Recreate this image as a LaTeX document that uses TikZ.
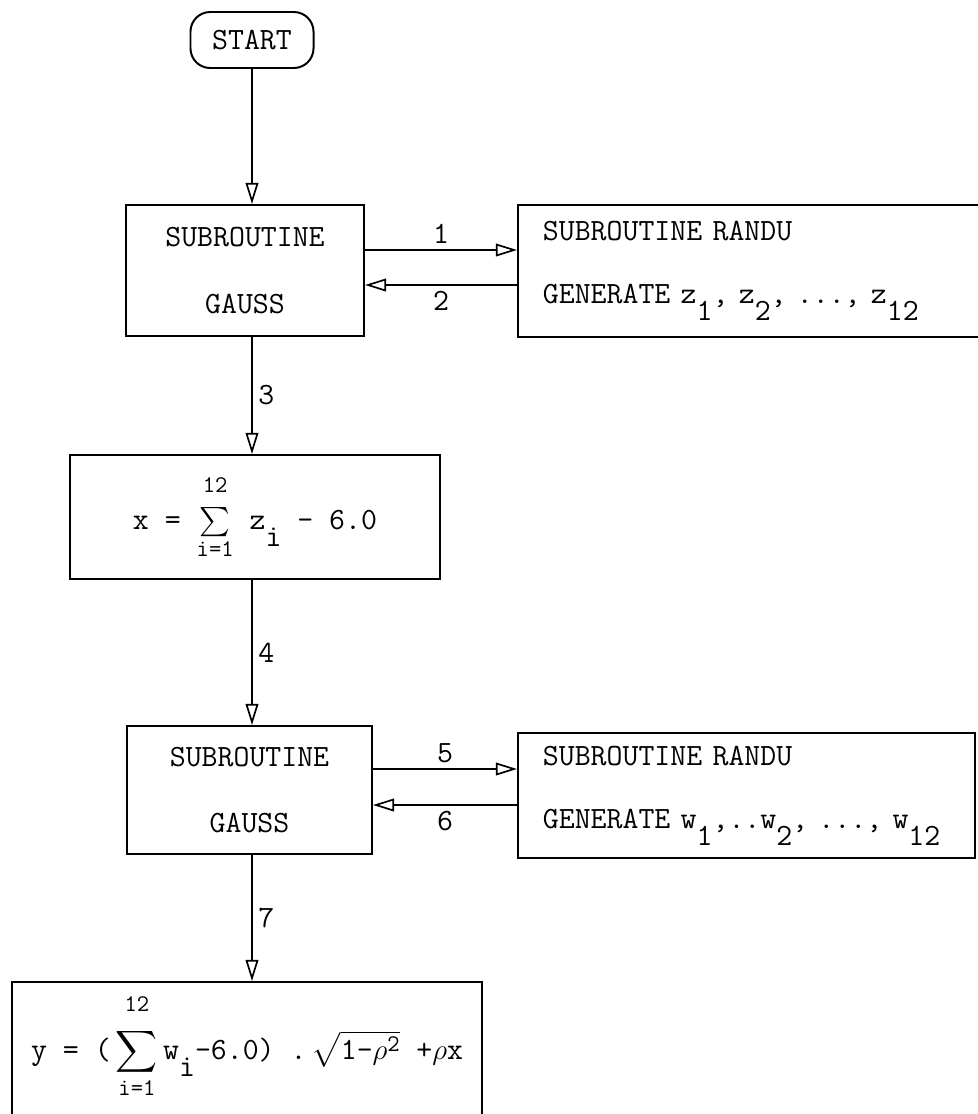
\documentclass[tikz,border=0pt]{standalone}
\usepackage{fontspec}
\usepackage{amsmath}
\usetikzlibrary{arrows.meta}

\newcommand\lo[1]{\raisebox{-0.55em}{#1}}
\newcommand\limtxt[1]{\mbox{\ttfamily\fontsize{17}{17}\selectfont #1}}

\begin{document}
\begin{tikzpicture}[x=0.025cm, y=-0.025cm,
  every node/.style={font=\ttfamily\fontsize{22}{26}\selectfont},
  box/.style={draw, line width=1.4pt, inner sep=0pt},
  flow/.style={line width=1.2pt, -{Triangle[open, length=15pt, width=9pt, line width=1.2pt]}},
  lbl/.style={inner sep=4pt}]
\useasboundingbox (0,0) rectangle (978,1114);

\node[box, rounded corners=14pt, minimum width=3.075cm, minimum height=1.4cm] (start) at (252,40) {START};
\node[box, align=center, minimum width=5.95cm, minimum height=3.275cm] (gauss1) at (245,270.5) {SUBROUTINE\\[21.5pt]GAUSS};
\node[box, align=left, text width=10.425cm, inner xsep=0.625cm, minimum height=3.3cm] (randu1) at (751.5,271) {SUBROUTINE RANDU\\[19pt]GENERATE z\lo{1}, z\lo{2}, ..., z\lo{12}};
\node[box, minimum width=9.25cm, minimum height=3.1cm] (sumx) at (255,517) {x = $\textstyle\sum\limits_{\limtxt{i=1}}^{\raisebox{7pt}{\limtxt{12}}}$\ z\lo{i} - 6.0};
\node[box, align=center, minimum width=6.125cm, minimum height=3.2cm] (gauss2) at (249.5,790) {SUBROUTINE\\[21pt]GAUSS};
\node[box, align=left, text width=10.175cm, inner xsep=0.625cm, minimum height=3.125cm] (randu2) at (746.5,795.5) {SUBROUTINE RANDU\\[19pt]GENERATE w\lo{1},..w\lo{2}, ..., w\lo{12}};
\node[box, anchor=north, minimum width=11.75cm, inner ysep=0.3cm, text depth=1.7cm] (ybox) at (247,981) {y = (\,$\displaystyle\sum_{\limtxt{i=1}}^{\raisebox{8pt}{\limtxt{12}}}$\,w\lo{i}-6.0) .\,$\sqrt{\mbox{1-}\rho^{\limtxt{2}}}$ +$\rho$x};

\coordinate (r1) at (0,250);
\coordinate (r2) at (0,285);
\coordinate (r5) at (0,769);
\coordinate (r6) at (0,805);

\draw[flow] (start.south) -- (start.south |- gauss1.north);
\draw[flow] (gauss1.east |- r1) -- node[above, lbl]{1} (randu1.west |- r1);
\draw[flow] (randu1.west |- r2) -- node[below, lbl]{2} (gauss1.east |- r2);
\draw[flow] (gauss1.south -| start.south) -- node[right, lbl]{3} (sumx.north -| start.south);
\draw[flow] (sumx.south -| start.south) -- node[right, lbl]{4} (gauss2.north -| start.south);
\draw[flow] (gauss2.east |- r5) -- node[above, lbl]{5} (randu2.west |- r5);
\draw[flow] (randu2.west |- r6) -- node[below, lbl]{6} (gauss2.east |- r6);
\draw[flow] (gauss2.south -| start.south) -- node[right, lbl]{7} (ybox.north -| start.south);

\end{tikzpicture}
\end{document}
